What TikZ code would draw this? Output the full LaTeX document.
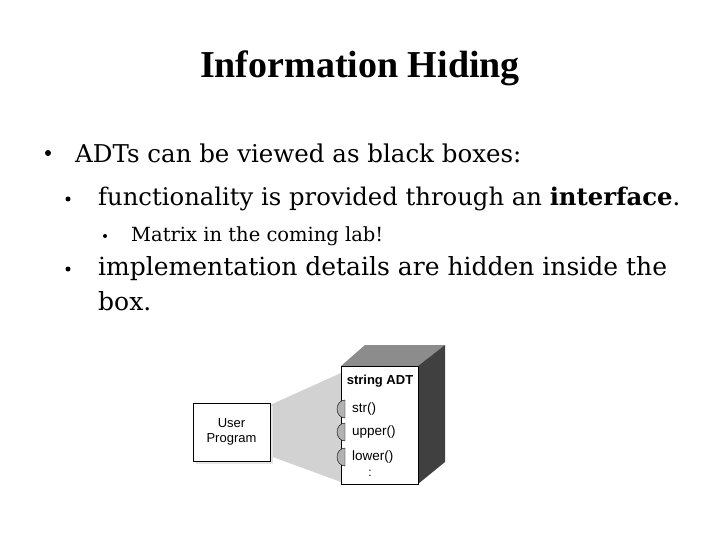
\documentclass[tikz,border=0pt]{standalone}
\usepackage{fontspec}
\setmainfont{DejaVu Serif}
\newfontfamily\titlefont{Liberation Serif}
\setsansfont{Liberation Sans}
\begin{document}
\begin{tikzpicture}[x=1pt,y=-1pt,
  bul/.style={circle,fill=black,inner sep=0pt,minimum size=#1},
  item/.style={anchor=west,inner sep=0pt,align=left},
  port/.style={fill=gray!60,draw=black,thin}]
  \useasboundingbox (0,0) rectangle (720,540);
  \node (title) at (360,68) {\titlefont\fontsize{38}{44}\selectfont\bfseries Information Hiding};
  % bullets
  \node[bul=6pt] (b1) at (48,153) {};
  \node[item,font=\fontsize{24.5}{30}\selectfont] (t1) at (75,153) {ADTs can be viewed as black boxes:};
  \node[bul=5pt] (b2) at (68,199) {};
  \node[item,font=\fontsize{24.3}{30}\selectfont] (t2) at (98,199) {functionality is provided through an \textbf{interface}.};
  \node[bul=4pt] (b3) at (105,236) {};
  \node[item,font=\fontsize{19.5}{24}\selectfont] (t3) at (131,236) {Matrix in the coming lab!};
  \node[bul=5pt] (b4) at (68,269) {};
  \node[item,anchor=north west,font=\fontsize{25}{35}\selectfont] (t4) at (98,256) {implementation details are hidden inside the\\box.};
  % box picture
  \fill[gray!35] (270,405) -- (341,373) -- (341,482) -- (270,456) -- cycle;
  \fill[black!45] (341,366) -- (365,345) -- (445,345) -- (418,366) -- cycle;
  \fill[black!75] (418,366) -- (445,345) -- (445,462) -- (418,484) -- cycle;
  \draw[fill=gray!20,draw=none] (196,406) rectangle (273,464);
  \draw[fill=white,thick] (193,403) rectangle node[font=\sffamily\fontsize{13}{15}\selectfont,align=center] (user) {User\\Program} (270,461);
  \draw[fill=white,thick] (341,366) rectangle (418,484);
  \node[font=\sffamily\bfseries\fontsize{13}{15}\selectfont] (adt) at (380,381) {string ADT};
  \foreach \y/\t in {409/str(),432/upper(),457/lower()}{
    \draw[port] (345,\y-9) arc[start angle=270,end angle=90,x radius=8,y radius=9] -- cycle;
    \node[anchor=west,font=\sffamily\fontsize{13.5}{15}\selectfont,inner sep=0pt] at (352,\y) {\t};
  }
  \node[font=\sffamily\fontsize{12}{14}\selectfont] (dots) at (370,473) {:};
\end{tikzpicture}
\end{document}
